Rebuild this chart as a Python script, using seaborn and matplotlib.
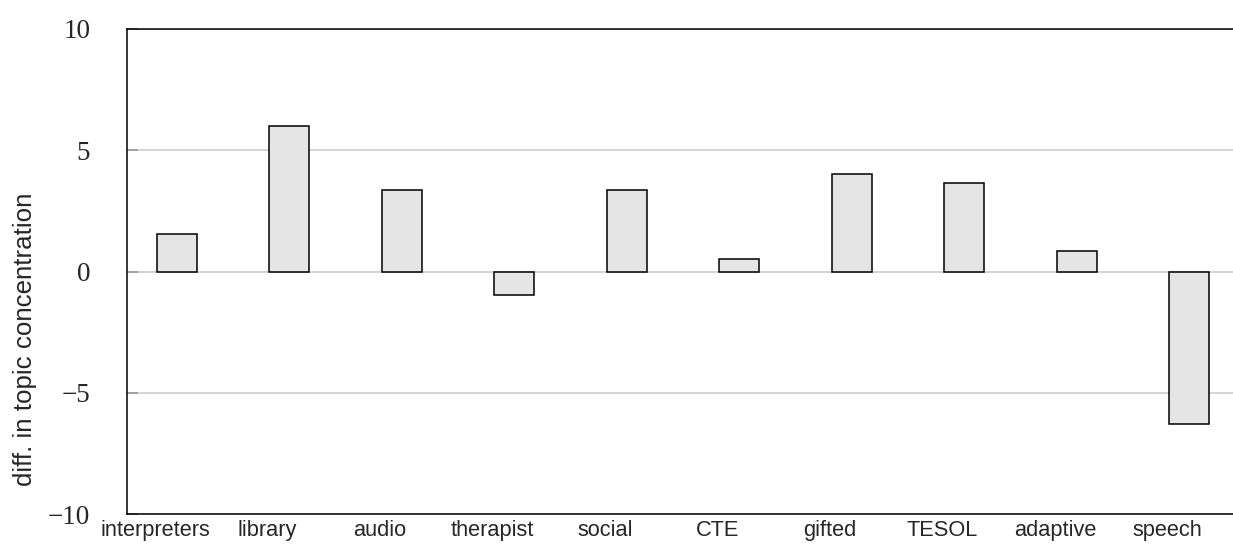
import matplotlib
matplotlib.use("Agg")
import matplotlib.pyplot as plt
import matplotlib.transforms as mtransforms
import seaborn as sns
import pandas as pd

categories = ["interpreters", "library", "audio", "therapist", "social",
              "CTE", "gifted", "TESOL", "adaptive", "speech"]
values = [1.55, 6.0, 3.35, -0.95, 3.35, 0.53, 4.03, 3.65, 0.86, -6.3]
yticks = [-10, -5, 0, 5, 10]
ylabel = "diff. in topic concentration"

sns.set_theme(style="white")
plt.rcParams["font.family"] = ["Liberation Sans", "DejaVu Sans"]

df = pd.DataFrame({"category": categories, "value": values})

fig = plt.figure(figsize=(12.33, 5.44), dpi=100)
ax = fig.add_axes([127 / 1233, 30 / 544, 1 - 127 / 1233, (514 - 29) / 544])

for y in yticks:
    ax.axhline(y, color="#cccccc", linewidth=1.2, zorder=0)

sns.barplot(data=df, x="category", y="value", order=categories,
            color="#e5e5e5", edgecolor="black", linewidth=1.1,
            width=0.356, saturation=1, ax=ax, zorder=2)

ax.set_xlim(-0.444, 9.387)
ax.set_ylim(-10, 10)
ax.set_yticks(yticks)
ax.set_yticklabels([str(t).replace("-", "\u2212") for t in yticks],
                   family=["Liberation Serif", "DejaVu Serif"], fontsize=19.5)
ax.tick_params(axis="y", direction="in", length=8, width=1.2,
               color="#999999", pad=26.5, left=True)
ax.tick_params(axis="x", length=0, pad=4)
ax.set_xlabel("")
ax.set_ylabel(ylabel, fontsize=18.6)
ax.yaxis.set_label_coords(-0.081, 0.36)
for lab in ax.get_xticklabels():
    lab.set_fontsize(15.7)
    lab.set_transform(lab.get_transform() +
                      mtransforms.ScaledTranslation(-22 / 100, 0, fig.dpi_scale_trans))

for side in ["left", "top", "bottom"]:
    ax.spines[side].set_visible(True)
    ax.spines[side].set_color("black")
    ax.spines[side].set_linewidth(1.1)
ax.spines["right"].set_visible(False)

fig.savefig("out.png", dpi=100)
